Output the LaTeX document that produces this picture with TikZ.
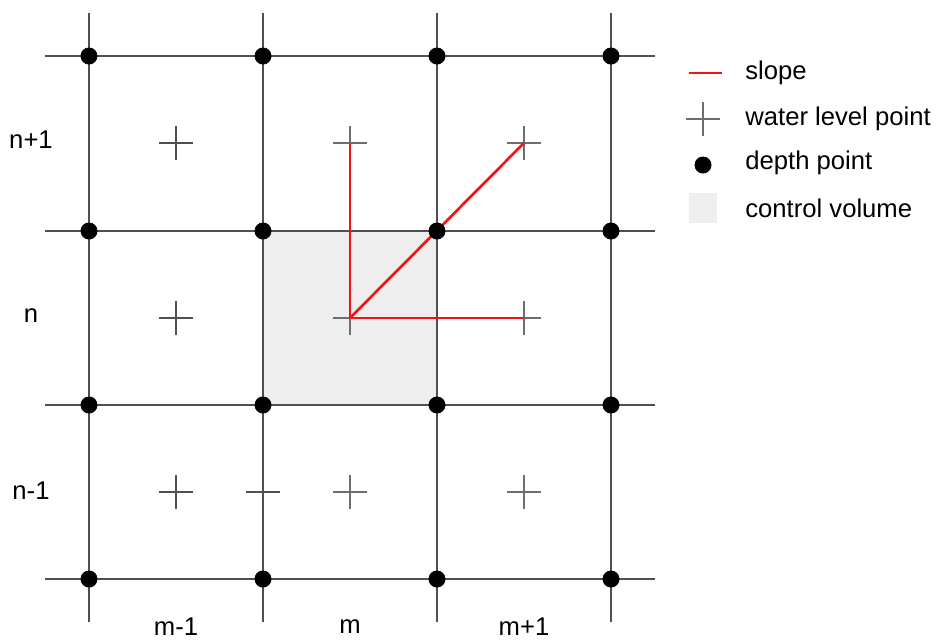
\documentclass[tikz,border=0pt]{standalone}
\usepackage{fontspec}
\setmainfont{Liberation Sans}
\usepackage{tikz}
\usetikzlibrary{positioning}
\definecolor{gridgray}{RGB}{80,80,80}
\definecolor{pluslight}{RGB}{110,110,110}
\definecolor{slopered}{RGB}{240,20,20}
\definecolor{cvgray}{RGB}{238,238,238}

\newlength{\pxu}
\setlength{\pxu}{0.02cm}
\tikzset{
  gridline/.style={gridgray, line width=0.75pt},
  wlmark/.style={pluslight, line width=0.75pt},
  slopeline/.style={slopered, line width=1.5pt},
  depthdot/.style={circle, fill=black, inner sep=0pt, minimum size=17\pxu},
  lbl/.style={font=\fontsize{14.6}{17}\selectfont, inner sep=0pt},
}

% water level point (plus sign)
\newcommand{\wlpoint}[2][]{%
  \draw[wlmark, #1] (#2) +(-17,0) -- +(17,0) (#2) +(0,-17) -- +(0,17);}

\begin{document}
\begin{tikzpicture}[x=0.02cm, y=-0.02cm]
  \useasboundingbox (0,0) rectangle (941,640);

  % Control volume
  \fill[cvgray] (263,231) rectangle (437,405);

  % Grid lines
  \foreach \x in {89,263,437,611}
    \draw[gridline] (\x,13) -- (\x,622);
  \foreach \y in {56,231,405,579}
    \draw[gridline] (45,\y) -- (655,\y);

  % Water level points
  \foreach \i/\x in {1/176,2/350,3/524}
    \foreach \j/\y in {1/143,2/318,3/492}
      \coordinate (w\i\j) at (\x,\y);
  \coordinate (wextra) at (263,492);
  \foreach \p in {w21,w22,w23,w31,w32,w33}
    {\wlpoint{\p}}
  \wlpoint[gridgray]{wextra}
  \wlpoint[gridgray]{w11}
  \wlpoint[gridgray]{w12}
  \wlpoint[gridgray]{w13}

  % Slopes
  \draw[slopeline] (w22) -- (w21);
  \draw[slopeline] (w22) -- (w32);
  \draw[slopeline] (w22) -- (w31);

  % Depth points
  \foreach \x in {89,263,437,611}
    \foreach \y in {56,231,405,579}
      \node[depthdot] (d-\x-\y) at (\x,\y) {};

  % Row and column labels
  \node[lbl] (row-n1) at (31,140) {n+1};
  \node[lbl] (row-n)  at (31,316) {n};
  \node[lbl] (row-n0) at (31,491) {n-1};
  \node[lbl] (col-m0) at (176,627) {m-1};
  \node[lbl] (col-m)  at (350,627) {m};
  \node[lbl] (col-m1) at (524,627) {m+1};

  % Legend
  \coordinate (leg-a) at (689,73);
  \coordinate (leg-b) at (722,73);
  \draw[slopered, line width=0.75pt] (leg-a) -- (leg-b);
  \node[lbl, anchor=west] (leg-slope) at (745,73) {slope};
  \coordinate (leg-w) at (703,119);
  \wlpoint{leg-w}
  \node[lbl, anchor=west] (leg-water) at (745,119) {water level point};
  \node[depthdot] (leg-d) at (703,165) {};
  \node[lbl, anchor=west] (leg-depth) at (745,163) {depth point};
  \fill[cvgray] (689,193) rectangle (717,223);
  \node[lbl, anchor=west] (leg-cv) at (745,208) {control volume};
\end{tikzpicture}
\end{document}
